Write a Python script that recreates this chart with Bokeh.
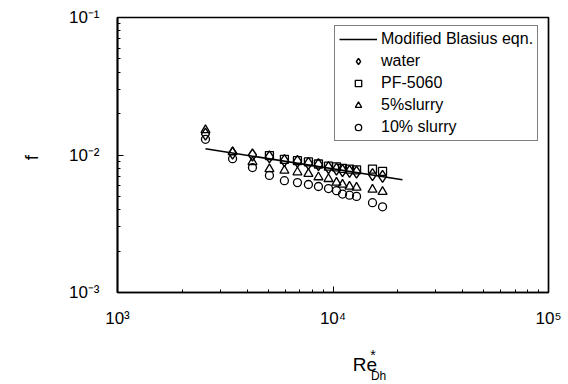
import math
from bokeh.plotting import figure
from bokeh.models import Legend, LegendItem, FixedTicker, Range1d
from bokeh.layouts import column
from bokeh.core.properties import value
from bokeh.embed import file_html
from bokeh.resources import INLINE

# ---- data ----
re_all = [2560, 3420, 4230, 5070, 5950, 6840, 7690, 8560, 9530, 10380, 11070, 11930, 12860, 15250, 16980]
f_water = [0.0142, 0.0103, 0.0100, 0.0097, 0.0091, 0.0090, 0.0087, 0.0085, 0.0081, 0.0079, 0.0077, 0.0076, 0.0075, 0.0072, 0.0070]
re_pf = [5070, 5950, 6840, 7690, 8560, 9530, 10380, 11070, 11930, 12860, 15250, 16980]
f_pf = [0.0099, 0.0093, 0.0091, 0.0089, 0.0086, 0.0083, 0.0082, 0.0080, 0.0079, 0.0078, 0.0079, 0.0076]
f_slurry5 = [0.0152, 0.0105, 0.0089, 0.0079, 0.0077, 0.0075, 0.0073, 0.0069, 0.0067, 0.0063, 0.0061, 0.0059, 0.0058, 0.0056, 0.0054]
f_slurry10 = [0.0130, 0.0094, 0.0081, 0.0071, 0.0065, 0.0063, 0.0061, 0.0059, 0.0057, 0.0055, 0.0052, 0.0051, 0.0050, 0.0045, 0.0042]
re_blasius = [2560, 21000]
f_blasius = [0.0111, 0.0066]

x_ticks = [1e3, 1e4, 1e5]
x_tick_labels = ["10³", "10⁴", "10⁵"]
y_ticks = [1e-3, 1e-2, 1e-1]
y_tick_labels = ["10⁻³", "10⁻²", "10⁻¹"]
x_minor = [2e3, 3e3, 4e3, 5e3, 6e3, 7e3, 8e3, 9e3, 2e4, 3e4, 4e4, 5e4, 6e4, 7e4, 8e4, 9e4]
y_minor = [2e-3, 3e-3, 4e-3, 5e-3, 6e-3, 7e-3, 8e-3, 9e-3, 2e-2, 3e-2, 4e-2, 5e-2, 6e-2, 7e-2, 8e-2, 9e-2]

# x-axis title pieces: Re, superscript *, subscript Dh
title_parts = ["Re", "*", "Dh"]

FONT = "Liberation Sans"

p = figure(width=568, height=340, x_axis_type="log", y_axis_type="log",
           x_range=(1e3, 1e5), y_range=(1e-3, 1e-1),
           output_backend="svg", toolbar_location=None,
           min_border_left=117, min_border_right=20, min_border_top=17, min_border_bottom=48)
p.background_fill_color = "white"
p.border_fill_color = "white"
p.xgrid.visible = False
p.ygrid.visible = False
p.outline_line_color = "black"
p.outline_line_width = 1.7

p.xaxis.ticker = FixedTicker(ticks=x_ticks, minor_ticks=x_minor)
p.yaxis.ticker = FixedTicker(ticks=y_ticks, minor_ticks=y_minor)
p.xaxis.major_label_overrides = {t: s for t, s in zip(x_ticks, x_tick_labels)}
p.yaxis.major_label_overrides = {t: s for t, s in zip(y_ticks, y_tick_labels)}

for ax in (p.xaxis, p.yaxis):
    ax.major_tick_in = 6
    ax.major_tick_out = 0
    ax.minor_tick_in = 3
    ax.minor_tick_out = 0
    ax.axis_line_width = 1.7
    ax.axis_line_color = "black"
    ax.major_tick_line_color = "black"
    ax.minor_tick_line_color = "black"
    ax.major_label_text_font = FONT
    ax.major_label_text_font_size = "17px"
    ax.major_label_text_color = "black"
p.xaxis.major_label_standoff = 16
p.yaxis.major_label_standoff = 18

p.yaxis.axis_label = "f"
p.yaxis.axis_label_text_font = FONT
p.yaxis.axis_label_text_font_size = "19px"
p.yaxis.axis_label_text_font_style = "normal"
p.yaxis.axis_label_text_color = "black"
p.yaxis.axis_label_orientation = math.pi / 2
p.yaxis.axis_label_standoff = 34

# ---- glyphs ----
r_line = p.line(re_blasius, f_blasius, line_color="black", line_width=1.6)
r_w = p.scatter(re_all, f_water, marker="diamond", size=12, fill_alpha=0,
                line_color="black", line_width=1.4)
r_pf = p.scatter(re_pf, f_pf, marker="square", size=8, fill_alpha=0,
                 line_color="black", line_width=1.3)
r_s5 = p.scatter(re_all, f_slurry5, marker="triangle", size=9, fill_alpha=0,
                 line_color="black", line_width=1.3)
r_s10 = p.scatter(re_all, f_slurry10, marker="circle", size=8, fill_alpha=0,
                  line_color="black", line_width=1.3)

legend = Legend(items=[
    LegendItem(label="Modified Blasius eqn.", renderers=[r_line]),
    LegendItem(label="water", renderers=[r_w]),
    LegendItem(label="PF-5060", renderers=[r_pf]),
    LegendItem(label="5%slurry", renderers=[r_s5]),
    LegendItem(label="10% slurry", renderers=[r_s10]),
], location=(217, 151))
legend.border_line_color = "black"
legend.border_line_width = 1.3
legend.background_fill_color = "white"
legend.background_fill_alpha = 1
legend.padding = 4
legend.spacing = 4
legend.margin = 0
legend.glyph_width = 38
legend.glyph_height = 16
legend.label_height = 16
legend.label_standoff = 4
legend.label_text_font = FONT
legend.label_text_font_size = "16px"
legend.label_text_color = "black"
p.add_layout(legend)

# ---- strip below the plot holding the x-axis title (pixel coordinates) ----
p2 = figure(width=568, height=44, x_range=Range1d(0, 568), y_range=Range1d(0, 44),
            output_backend="svg", toolbar_location=None,
            x_axis_location=None, y_axis_location=None,
            min_border_left=0, min_border_right=0, min_border_top=0, min_border_bottom=0)
p2.xgrid.visible = False
p2.ygrid.visible = False
p2.outline_line_color = None
p2.background_fill_color = "white"
p2.border_fill_color = "white"
p2.text(x=[310], y=[20], text=[title_parts[0]], text_font=value(FONT),
        text_font_size="19px", text_color="black", text_baseline="alphabetic")
p2.text(x=[333], y=[30], text=[title_parts[1]], text_font=value(FONT),
        text_font_size="14px", text_color="black", text_baseline="alphabetic")
p2.text(x=[334], y=[9], text=[title_parts[2]], text_font=value(FONT),
        text_font_size="12px", text_color="black", text_baseline="alphabetic")

layout = column(p, p2, spacing=0)
open("out.html", "w").write(file_html(layout, INLINE))
